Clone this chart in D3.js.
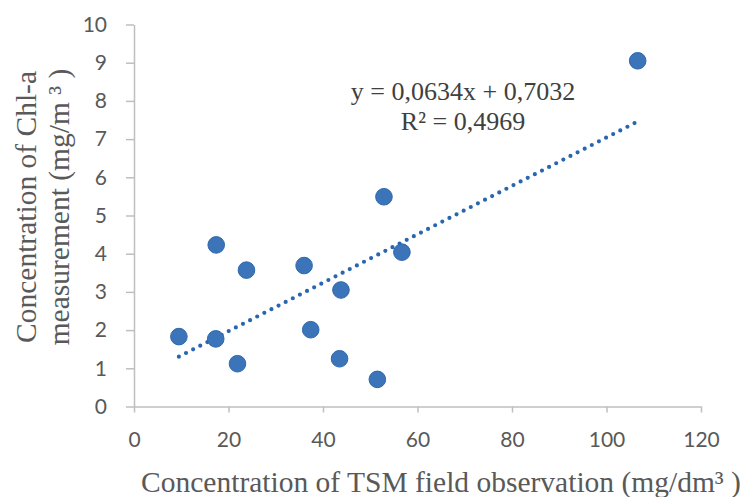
<!DOCTYPE html>
<html>
<head>
<meta charset="utf-8">
<script src="https://cdn.jsdelivr.net/npm/d3@7"></script>
<style>
  body { margin: 0; background: #fff; }
  .tick text { font-family: Lato, "Open Sans", sans-serif; font-size: 21px; fill: #595959; }
  .axis-title { font-family: "Liberation Serif", "Times New Roman", serif; font-size: 29.5px; fill: #595959; }
  .eq { font-family: "Liberation Serif", "Times New Roman", serif; font-size: 26px; fill: #404040; }
</style>
</head>
<body>
<div id="main"></div>
<script>
// Sizes
var svgWidth = 742;
var svgHeight = 497;

// Data: TSM (x) vs Chl-a (y)
var tsmValues = [9.5, 17.4, 17.3, 21.9, 23.8, 36.0, 37.4, 43.8, 43.5, 51.5, 52.9, 56.7, 106.6];
var chlValues = [1.83, 4.23, 1.77, 1.12, 3.57, 3.69, 2.01, 3.05, 1.25, 0.71, 5.49, 4.04, 9.05];

// Linear trendline as printed on the chart
var slope = 0.0634;
var intercept = 0.7032;
var equationLines = ['y = 0,0634x + 0,7032', 'R² = 0,4969'];

var xTicks = [0, 20, 40, 60, 80, 100, 120];
var yTicks = [0, 1, 2, 3, 4, 5, 6, 7, 8, 9, 10];

var points = tsmValues.map(function(x, i) { return {x: x, y: chlValues[i]}; });

var svg = d3.select('#main')
  .append('svg')
  .attr('width', svgWidth)
  .attr('height', svgHeight);

var xScale = d3.scaleLinear().domain([0, 120]).range([134, 701]);
var yScale = d3.scaleLinear().domain([0, 10]).range([406.5, 24.5]);

var xAxis = d3.axisBottom(xScale).tickValues(xTicks).tickSizeInner(6).tickSizeOuter(0).tickPadding(20);
var yAxis = d3.axisLeft(yScale).tickValues(yTicks).tickSizeInner(8).tickSizeOuter(0).tickPadding(19);

svg.append('g')
  .attr('class', 'x axis')
  .attr('transform', 'translate(0,' + yScale(0) + ')')
  .call(xAxis);

svg.append('g')
  .attr('class', 'y axis')
  .attr('transform', 'translate(' + xScale(0) + ',0)')
  .call(yAxis);

svg.selectAll('.axis path, .axis line')
  .attr('stroke', '#bfbfbf')
  .attr('stroke-width', 1.5);

// trendline, spanning the data range
var xExtent = d3.extent(tsmValues);
var trend = xExtent.map(function(x) { return {x: x, y: slope * x + intercept}; });

svg.append('path')
  .datum(trend)
  .attr('d', d3.line()
    .x(function(d) { return xScale(d.x); })
    .y(function(d) { return yScale(d.y); }))
  .attr('fill', 'none')
  .attr('stroke', '#2a66b0')
  .attr('stroke-width', 4.2)
  .attr('stroke-linecap', 'round')
  .attr('stroke-dasharray', '0 8');

// markers
svg.selectAll('.dot')
  .data(points)
  .enter()
  .append('circle')
  .attr('class', 'dot')
  .attr('cx', function(d) { return xScale(d.x); })
  .attr('cy', function(d) { return yScale(d.y); })
  .attr('r', 8.3)
  .attr('fill', '#3b74b9')
  .attr('stroke', '#2f67ac')
  .attr('stroke-width', 1);

// equation label
svg.selectAll('.eq')
  .data(equationLines)
  .enter()
  .append('text')
  .attr('class', 'eq')
  .attr('text-anchor', 'middle')
  .attr('x', 463)
  .attr('y', function(d, i) { return 100 + i * 30; })
  .text(function(d) { return d; });

// x-axis title
svg.append('text')
  .attr('class', 'axis-title')
  .attr('text-anchor', 'middle')
  .attr('x', 441)
  .attr('y', 492)
  .text('Concentration of TSM field observation (mg/dm³ )');

// y-axis title, two lines
var yTitle = ['Concentration of Chl-a', 'measurement (mg/m ³ )'];
svg.selectAll('.y-title')
  .data(yTitle)
  .enter()
  .append('text')
  .attr('class', 'axis-title y-title')
  .attr('text-anchor', 'middle')
  .attr('transform', function(d, i) {
    return 'translate(' + (36 + i * 33) + ',207) rotate(-90)';
  })
  .text(function(d) { return d; });
</script>
</body>
</html>
